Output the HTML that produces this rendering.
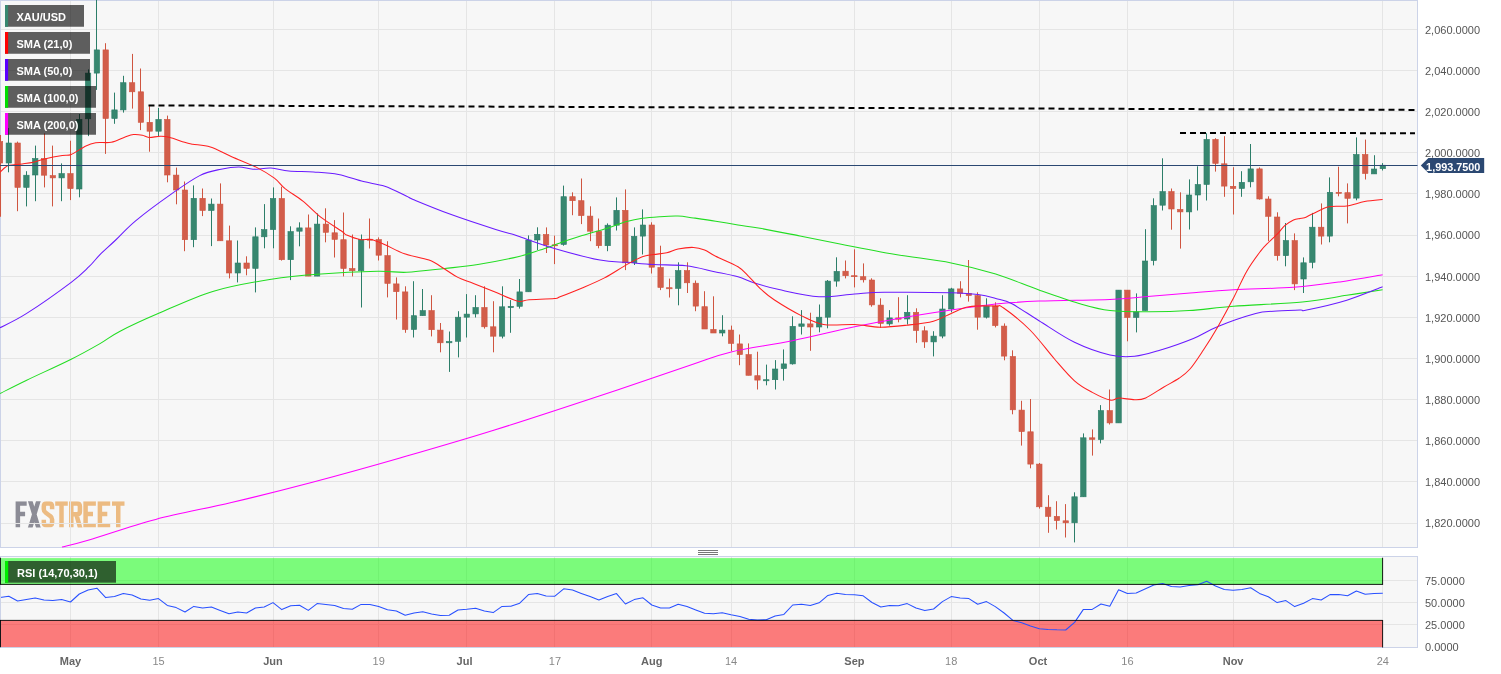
<!DOCTYPE html><html><head><meta charset="utf-8"><title>XAU/USD</title>
<style>html,body{margin:0;padding:0;background:#fff;}body{width:1501px;height:674px;overflow:hidden;font-family:"Liberation Sans",sans-serif;}svg{display:block;will-change:transform}text{font-family:"Liberation Sans",sans-serif;font-size:11px}</style></head><body>
<svg width="1501" height="674" viewBox="0 0 1501 674">
<rect x="0" y="0" width="1501" height="674" fill="#ffffff"/>
<rect x="0" y="0" width="1418" height="548" fill="#f7f7f7"/>
<rect x="0" y="556" width="1418" height="92" fill="#f7f7f7"/>
<clipPath id="lc"><rect x="10" y="501.3" width="120" height="26.1"/></clipPath>
<g id="logo" fill="none" stroke-width="4.5" stroke-linejoin="miter" clip-path="url(#lc)">
<g stroke="#8c8c96">
<path d="M17.85 527.4 V501.3 M15.6 503.5 H26.7 M17.85 514 H25.1"/>
<path d="M29.7 499.3 L38.9 529.4 M38.9 499.3 L29.7 529.4"/>
</g><g stroke="#ecbb82">
<path d="M52.1 509.2 V506.5 Q52.1 503.5 49.4 503.5 H46.5 Q43.8 503.5 43.8 506.5 V509.3 Q43.8 511.3 45.5 512.5 L50.4 516.2 Q52.1 517.4 52.1 519.6 V522.2 Q52.1 525.2 49.4 525.2 H46.5 Q43.8 525.2 43.8 522.2 V519.8"/>
<path d="M55.2 503.5 H67.8 M61.5 503.5 V527.4"/>
<path d="M71.3 527.4 V501.3 M71.3 503.5 H77 Q79.9 503.5 79.9 506.5 V511.2 Q79.9 514.2 77 514.2 H71.3 M76.2 514.2 L80.6 529.4"/>
<path d="M85.6 527.4 V501.3 M83.4 503.5 H95.9 M85.6 514 H93 M83.4 525.2 H95.9"/>
<path d="M99.9 527.4 V501.3 M97.7 503.5 H110.2 M99.9 514 H107.3 M97.7 525.2 H110.2"/>
<path d="M112 503.5 H124.5 M118.25 503.5 V527.4"/>
</g></g>
<g stroke="#e5e5e5" stroke-width="1" fill="none">
<path d="M0 523.5 H1417.5"/>
<path d="M0 481.5 H1417.5"/>
<path d="M0 440.5 H1417.5"/>
<path d="M0 399.5 H1417.5"/>
<path d="M0 358.5 H1417.5"/>
<path d="M0 317.5 H1417.5"/>
<path d="M0 276.5 H1417.5"/>
<path d="M0 235.5 H1417.5"/>
<path d="M0 193.5 H1417.5"/>
<path d="M0 152.5 H1417.5"/>
<path d="M0 111.5 H1417.5"/>
<path d="M0 70.5 H1417.5"/>
<path d="M0 29.5 H1417.5"/>
<path d="M70.5 0 V547.5 M70.5 556.5 V647.5"/>
<path d="M158.5 0 V547.5 M158.5 556.5 V647.5"/>
<path d="M273.5 0 V547.5 M273.5 556.5 V647.5"/>
<path d="M378.5 0 V547.5 M378.5 556.5 V647.5"/>
<path d="M466.5 0 V547.5 M466.5 556.5 V647.5"/>
<path d="M554.5 0 V547.5 M554.5 556.5 V647.5"/>
<path d="M651.5 0 V547.5 M651.5 556.5 V647.5"/>
<path d="M731.5 0 V547.5 M731.5 556.5 V647.5"/>
<path d="M854.5 0 V547.5 M854.5 556.5 V647.5"/>
<path d="M951.5 0 V547.5 M951.5 556.5 V647.5"/>
<path d="M1039.5 0 V547.5 M1039.5 556.5 V647.5"/>
<path d="M1127.5 0 V547.5 M1127.5 556.5 V647.5"/>
<path d="M1233.5 0 V547.5 M1233.5 556.5 V647.5"/>
<path d="M1382.5 0 V547.5 M1382.5 556.5 V647.5"/>
<path d="M0 624.5 H1417.5"/>
<path d="M0 602.5 H1417.5"/>
<path d="M0 580.5 H1417.5"/>
</g>
<rect x="0.5" y="0.5" width="1417.0" height="547.0" fill="none" stroke="#ccd3e8" stroke-width="1"/>
<g stroke-width="1">
<path d="M0.50 135.0 V216.8" stroke="#cf5540" stroke-width="1.05" fill="none"/>
<rect x="-2.70" y="141.6" width="5.4" height="21.4" fill="#d25d4a" stroke="#cf5540" stroke-width="0.6"/>
<path d="M8.50 128.0 V172.3" stroke="#2c7e69" stroke-width="1.05" fill="none"/>
<rect x="6.11" y="143.0" width="5.4" height="20.0" fill="#37876f" stroke="#2c7e69" stroke-width="0.6"/>
<path d="M17.50 141.6 V211.2" stroke="#cf5540" stroke-width="1.05" fill="none"/>
<rect x="14.92" y="143.0" width="5.4" height="44.4" fill="#d25d4a" stroke="#cf5540" stroke-width="0.6"/>
<path d="M26.50 171.2 V206.4" stroke="#2c7e69" stroke-width="1.05" fill="none"/>
<rect x="23.72" y="175.2" width="5.4" height="12.2" fill="#37876f" stroke="#2c7e69" stroke-width="0.6"/>
<path d="M35.50 145.6 V201.2" stroke="#2c7e69" stroke-width="1.05" fill="none"/>
<rect x="32.53" y="158.5" width="5.4" height="16.5" fill="#37876f" stroke="#2c7e69" stroke-width="0.6"/>
<path d="M44.50 133.4 V187.4" stroke="#cf5540" stroke-width="1.05" fill="none"/>
<rect x="41.34" y="158.5" width="5.4" height="16.7" fill="#d25d4a" stroke="#cf5540" stroke-width="0.6"/>
<path d="M52.50 145.6 V206.4" stroke="#cf5540" stroke-width="1.05" fill="none"/>
<rect x="50.15" y="175.6" width="5.4" height="2.3" fill="#d25d4a" stroke="#cf5540" stroke-width="0.6"/>
<path d="M61.50 163.4 V201.2" stroke="#2c7e69" stroke-width="1.05" fill="none"/>
<rect x="58.95" y="173.6" width="5.4" height="4.3" fill="#37876f" stroke="#2c7e69" stroke-width="0.6"/>
<path d="M70.50 140.7 V200.1" stroke="#cf5540" stroke-width="1.05" fill="none"/>
<rect x="67.76" y="173.6" width="5.4" height="15.0" fill="#d25d4a" stroke="#cf5540" stroke-width="0.6"/>
<path d="M79.50 114.0 V197.3" stroke="#2c7e69" stroke-width="1.05" fill="none"/>
<rect x="76.57" y="119.3" width="5.4" height="69.7" fill="#37876f" stroke="#2c7e69" stroke-width="0.6"/>
<path d="M88.50 69.4 V136.1" stroke="#2c7e69" stroke-width="1.05" fill="none"/>
<rect x="85.38" y="73.1" width="5.4" height="45.7" fill="#37876f" stroke="#2c7e69" stroke-width="0.6"/>
<path d="M96.50 0.0 V89.9" stroke="#2c7e69" stroke-width="1.05" fill="none"/>
<rect x="94.19" y="49.9" width="5.4" height="23.2" fill="#37876f" stroke="#2c7e69" stroke-width="0.6"/>
<path d="M105.50 43.2 V153.9" stroke="#cf5540" stroke-width="1.05" fill="none"/>
<rect x="102.99" y="49.9" width="5.4" height="68.6" fill="#d25d4a" stroke="#cf5540" stroke-width="0.6"/>
<path d="M114.50 92.6 V123.8" stroke="#2c7e69" stroke-width="1.05" fill="none"/>
<rect x="111.80" y="109.9" width="5.4" height="8.6" fill="#37876f" stroke="#2c7e69" stroke-width="0.6"/>
<path d="M123.50 75.8 V112.6" stroke="#2c7e69" stroke-width="1.05" fill="none"/>
<rect x="120.61" y="82.7" width="5.4" height="27.2" fill="#37876f" stroke="#2c7e69" stroke-width="0.6"/>
<path d="M132.50 53.9 V108.6" stroke="#cf5540" stroke-width="1.05" fill="none"/>
<rect x="129.42" y="82.7" width="5.4" height="9.1" fill="#d25d4a" stroke="#cf5540" stroke-width="0.6"/>
<path d="M140.50 68.5 V130.1" stroke="#cf5540" stroke-width="1.05" fill="none"/>
<rect x="138.22" y="91.8" width="5.4" height="30.5" fill="#d25d4a" stroke="#cf5540" stroke-width="0.6"/>
<path d="M149.50 106.1 V151.7" stroke="#cf5540" stroke-width="1.05" fill="none"/>
<rect x="147.03" y="122.3" width="5.4" height="8.9" fill="#d25d4a" stroke="#cf5540" stroke-width="0.6"/>
<path d="M158.50 107.9 V136.1" stroke="#2c7e69" stroke-width="1.05" fill="none"/>
<rect x="155.84" y="119.4" width="5.4" height="11.8" fill="#37876f" stroke="#2c7e69" stroke-width="0.6"/>
<path d="M167.50 115.6 V182.3" stroke="#cf5540" stroke-width="1.05" fill="none"/>
<rect x="164.65" y="119.4" width="5.4" height="55.6" fill="#d25d4a" stroke="#cf5540" stroke-width="0.6"/>
<path d="M176.50 167.6 V204.3" stroke="#cf5540" stroke-width="1.05" fill="none"/>
<rect x="173.46" y="175.1" width="5.4" height="14.9" fill="#d25d4a" stroke="#cf5540" stroke-width="0.6"/>
<path d="M184.50 181.5 V251.2" stroke="#cf5540" stroke-width="1.05" fill="none"/>
<rect x="182.26" y="190.0" width="5.4" height="49.7" fill="#d25d4a" stroke="#cf5540" stroke-width="0.6"/>
<path d="M193.50 185.4 V247.2" stroke="#2c7e69" stroke-width="1.05" fill="none"/>
<rect x="191.07" y="198.3" width="5.4" height="41.4" fill="#37876f" stroke="#2c7e69" stroke-width="0.6"/>
<path d="M202.50 188.5 V216.1" stroke="#cf5540" stroke-width="1.05" fill="none"/>
<rect x="199.88" y="198.3" width="5.4" height="12.2" fill="#d25d4a" stroke="#cf5540" stroke-width="0.6"/>
<path d="M211.50 198.5 V246.1" stroke="#2c7e69" stroke-width="1.05" fill="none"/>
<rect x="208.69" y="204.1" width="5.4" height="6.4" fill="#37876f" stroke="#2c7e69" stroke-width="0.6"/>
<path d="M220.50 183.4 V240.8" stroke="#cf5540" stroke-width="1.05" fill="none"/>
<rect x="217.50" y="204.1" width="5.4" height="36.7" fill="#d25d4a" stroke="#cf5540" stroke-width="0.6"/>
<path d="M229.50 225.6 V278.4" stroke="#cf5540" stroke-width="1.05" fill="none"/>
<rect x="226.30" y="240.8" width="5.4" height="32.2" fill="#d25d4a" stroke="#cf5540" stroke-width="0.6"/>
<path d="M237.50 240.5 V282.4" stroke="#2c7e69" stroke-width="1.05" fill="none"/>
<rect x="235.11" y="263.0" width="5.4" height="10.0" fill="#37876f" stroke="#2c7e69" stroke-width="0.6"/>
<path d="M246.50 256.3 V275.3" stroke="#cf5540" stroke-width="1.05" fill="none"/>
<rect x="243.92" y="263.0" width="5.4" height="5.4" fill="#d25d4a" stroke="#cf5540" stroke-width="0.6"/>
<path d="M255.50 227.4 V292.4" stroke="#2c7e69" stroke-width="1.05" fill="none"/>
<rect x="252.73" y="236.8" width="5.4" height="31.6" fill="#37876f" stroke="#2c7e69" stroke-width="0.6"/>
<path d="M264.50 204.1 V248.3" stroke="#2c7e69" stroke-width="1.05" fill="none"/>
<rect x="261.53" y="229.6" width="5.4" height="7.2" fill="#37876f" stroke="#2c7e69" stroke-width="0.6"/>
<path d="M273.50 187.4 V248.3" stroke="#2c7e69" stroke-width="1.05" fill="none"/>
<rect x="270.34" y="198.5" width="5.4" height="31.1" fill="#37876f" stroke="#2c7e69" stroke-width="0.6"/>
<path d="M281.50 186.7 V260.6" stroke="#cf5540" stroke-width="1.05" fill="none"/>
<rect x="279.15" y="198.5" width="5.4" height="61.2" fill="#d25d4a" stroke="#cf5540" stroke-width="0.6"/>
<path d="M290.50 226.3 V280.1" stroke="#2c7e69" stroke-width="1.05" fill="none"/>
<rect x="287.96" y="231.6" width="5.4" height="28.1" fill="#37876f" stroke="#2c7e69" stroke-width="0.6"/>
<path d="M299.50 222.3 V246.3" stroke="#2c7e69" stroke-width="1.05" fill="none"/>
<rect x="296.77" y="227.9" width="5.4" height="3.3" fill="#37876f" stroke="#2c7e69" stroke-width="0.6"/>
<path d="M308.50 214.5 V276.1" stroke="#cf5540" stroke-width="1.05" fill="none"/>
<rect x="305.57" y="227.9" width="5.4" height="48.2" fill="#d25d4a" stroke="#cf5540" stroke-width="0.6"/>
<path d="M317.50 213.4 V276.1" stroke="#2c7e69" stroke-width="1.05" fill="none"/>
<rect x="314.38" y="224.1" width="5.4" height="52.0" fill="#37876f" stroke="#2c7e69" stroke-width="0.6"/>
<path d="M325.50 208.3 V242.3" stroke="#cf5540" stroke-width="1.05" fill="none"/>
<rect x="323.19" y="224.1" width="5.4" height="8.2" fill="#d25d4a" stroke="#cf5540" stroke-width="0.6"/>
<path d="M334.50 220.1 V257.5" stroke="#cf5540" stroke-width="1.05" fill="none"/>
<rect x="332.00" y="232.8" width="5.4" height="6.6" fill="#d25d4a" stroke="#cf5540" stroke-width="0.6"/>
<path d="M343.50 212.5 V276.4" stroke="#cf5540" stroke-width="1.05" fill="none"/>
<rect x="340.80" y="239.7" width="5.4" height="28.8" fill="#d25d4a" stroke="#cf5540" stroke-width="0.6"/>
<path d="M352.50 234.5 V276.4" stroke="#cf5540" stroke-width="1.05" fill="none"/>
<rect x="349.61" y="268.5" width="5.4" height="2.2" fill="#d25d4a" stroke="#cf5540" stroke-width="0.6"/>
<path d="M361.50 234.5 V307.5" stroke="#2c7e69" stroke-width="1.05" fill="none"/>
<rect x="358.42" y="239.6" width="5.4" height="31.1" fill="#37876f" stroke="#2c7e69" stroke-width="0.6"/>
<path d="M369.50 218.5 V248.5" stroke="#cf5540" stroke-width="1.05" fill="none"/>
<rect x="367.23" y="239.2" width="5.4" height="1.0" fill="#d25d4a" stroke="#cf5540" stroke-width="0.6"/>
<path d="M378.50 237.4 V260.5" stroke="#cf5540" stroke-width="1.05" fill="none"/>
<rect x="376.04" y="239.6" width="5.4" height="15.6" fill="#d25d4a" stroke="#cf5540" stroke-width="0.6"/>
<path d="M387.50 241.2 V297.4" stroke="#cf5540" stroke-width="1.05" fill="none"/>
<rect x="384.84" y="255.6" width="5.4" height="27.8" fill="#d25d4a" stroke="#cf5540" stroke-width="0.6"/>
<path d="M396.50 277.4 V319.5" stroke="#cf5540" stroke-width="1.05" fill="none"/>
<rect x="393.65" y="283.9" width="5.4" height="7.8" fill="#d25d4a" stroke="#cf5540" stroke-width="0.6"/>
<path d="M405.50 286.3 V332.8" stroke="#cf5540" stroke-width="1.05" fill="none"/>
<rect x="402.46" y="291.9" width="5.4" height="37.6" fill="#d25d4a" stroke="#cf5540" stroke-width="0.6"/>
<path d="M413.50 281.2 V337.5" stroke="#2c7e69" stroke-width="1.05" fill="none"/>
<rect x="411.27" y="315.7" width="5.4" height="13.8" fill="#37876f" stroke="#2c7e69" stroke-width="0.6"/>
<path d="M422.50 289.0 V315.7" stroke="#2c7e69" stroke-width="1.05" fill="none"/>
<rect x="420.07" y="310.6" width="5.4" height="5.1" fill="#37876f" stroke="#2c7e69" stroke-width="0.6"/>
<path d="M431.50 295.2 V336.4" stroke="#cf5540" stroke-width="1.05" fill="none"/>
<rect x="428.88" y="310.6" width="5.4" height="19.1" fill="#d25d4a" stroke="#cf5540" stroke-width="0.6"/>
<path d="M440.50 323.0 V352.3" stroke="#cf5540" stroke-width="1.05" fill="none"/>
<rect x="437.69" y="330.1" width="5.4" height="12.7" fill="#d25d4a" stroke="#cf5540" stroke-width="0.6"/>
<path d="M449.50 331.5 V371.9" stroke="#2c7e69" stroke-width="1.05" fill="none"/>
<rect x="446.50" y="341.5" width="5.4" height="1.3" fill="#37876f" stroke="#2c7e69" stroke-width="0.6"/>
<path d="M458.50 311.2 V357.4" stroke="#2c7e69" stroke-width="1.05" fill="none"/>
<rect x="455.31" y="317.2" width="5.4" height="24.1" fill="#37876f" stroke="#2c7e69" stroke-width="0.6"/>
<path d="M466.50 294.1 V337.5" stroke="#2c7e69" stroke-width="1.05" fill="none"/>
<rect x="464.11" y="314.1" width="5.4" height="3.1" fill="#37876f" stroke="#2c7e69" stroke-width="0.6"/>
<path d="M475.50 295.2 V317.5" stroke="#2c7e69" stroke-width="1.05" fill="none"/>
<rect x="472.92" y="307.5" width="5.4" height="6.4" fill="#37876f" stroke="#2c7e69" stroke-width="0.6"/>
<path d="M484.50 286.3 V328.6" stroke="#cf5540" stroke-width="1.05" fill="none"/>
<rect x="481.73" y="307.5" width="5.4" height="19.3" fill="#d25d4a" stroke="#cf5540" stroke-width="0.6"/>
<path d="M493.50 301.2 V352.3" stroke="#cf5540" stroke-width="1.05" fill="none"/>
<rect x="490.54" y="326.8" width="5.4" height="9.4" fill="#d25d4a" stroke="#cf5540" stroke-width="0.6"/>
<path d="M502.50 286.3 V338.4" stroke="#2c7e69" stroke-width="1.05" fill="none"/>
<rect x="499.34" y="306.8" width="5.4" height="29.4" fill="#37876f" stroke="#2c7e69" stroke-width="0.6"/>
<path d="M510.50 300.1 V332.8" stroke="#2c7e69" stroke-width="1.05" fill="none"/>
<rect x="508.15" y="306.3" width="5.4" height="1.4" fill="#37876f" stroke="#2c7e69" stroke-width="0.6"/>
<path d="M519.50 279.0 V308.6" stroke="#2c7e69" stroke-width="1.05" fill="none"/>
<rect x="516.96" y="291.9" width="5.4" height="14.4" fill="#37876f" stroke="#2c7e69" stroke-width="0.6"/>
<path d="M528.50 235.4 V291.8" stroke="#2c7e69" stroke-width="1.05" fill="none"/>
<rect x="525.77" y="240.0" width="5.4" height="51.8" fill="#37876f" stroke="#2c7e69" stroke-width="0.6"/>
<path d="M537.50 227.3 V250.0" stroke="#2c7e69" stroke-width="1.05" fill="none"/>
<rect x="534.58" y="234.3" width="5.4" height="5.7" fill="#37876f" stroke="#2c7e69" stroke-width="0.6"/>
<path d="M546.50 227.4 V253.0" stroke="#cf5540" stroke-width="1.05" fill="none"/>
<rect x="543.38" y="234.5" width="5.4" height="10.5" fill="#d25d4a" stroke="#cf5540" stroke-width="0.6"/>
<path d="M554.50 235.6 V264.1" stroke="#cf5540" stroke-width="1.05" fill="none"/>
<rect x="552.19" y="244.8" width="5.4" height="1.0" fill="#d25d4a" stroke="#cf5540" stroke-width="0.6"/>
<path d="M563.50 185.6 V245.7" stroke="#2c7e69" stroke-width="1.05" fill="none"/>
<rect x="561.00" y="196.7" width="5.4" height="47.8" fill="#37876f" stroke="#2c7e69" stroke-width="0.6"/>
<path d="M572.50 192.3 V215.2" stroke="#cf5540" stroke-width="1.05" fill="none"/>
<rect x="569.81" y="196.7" width="5.4" height="4.0" fill="#d25d4a" stroke="#cf5540" stroke-width="0.6"/>
<path d="M581.50 178.5 V224.1" stroke="#cf5540" stroke-width="1.05" fill="none"/>
<rect x="578.61" y="200.7" width="5.4" height="14.9" fill="#d25d4a" stroke="#cf5540" stroke-width="0.6"/>
<path d="M590.50 206.3 V241.2" stroke="#cf5540" stroke-width="1.05" fill="none"/>
<rect x="587.42" y="216.1" width="5.4" height="15.1" fill="#d25d4a" stroke="#cf5540" stroke-width="0.6"/>
<path d="M598.50 218.5 V248.3" stroke="#cf5540" stroke-width="1.05" fill="none"/>
<rect x="596.23" y="231.2" width="5.4" height="14.5" fill="#d25d4a" stroke="#cf5540" stroke-width="0.6"/>
<path d="M607.50 223.4 V251.2" stroke="#2c7e69" stroke-width="1.05" fill="none"/>
<rect x="605.04" y="225.2" width="5.4" height="20.5" fill="#37876f" stroke="#2c7e69" stroke-width="0.6"/>
<path d="M616.50 197.4 V230.5" stroke="#2c7e69" stroke-width="1.05" fill="none"/>
<rect x="613.85" y="210.3" width="5.4" height="14.9" fill="#37876f" stroke="#2c7e69" stroke-width="0.6"/>
<path d="M625.50 189.4 V270.1" stroke="#cf5540" stroke-width="1.05" fill="none"/>
<rect x="622.65" y="210.3" width="5.4" height="52.5" fill="#d25d4a" stroke="#cf5540" stroke-width="0.6"/>
<path d="M634.50 227.4 V265.0" stroke="#2c7e69" stroke-width="1.05" fill="none"/>
<rect x="631.46" y="236.3" width="5.4" height="26.5" fill="#37876f" stroke="#2c7e69" stroke-width="0.6"/>
<path d="M642.50 209.4 V254.5" stroke="#2c7e69" stroke-width="1.05" fill="none"/>
<rect x="640.27" y="225.0" width="5.4" height="11.1" fill="#37876f" stroke="#2c7e69" stroke-width="0.6"/>
<path d="M651.50 222.3 V273.5" stroke="#cf5540" stroke-width="1.05" fill="none"/>
<rect x="649.08" y="225.0" width="5.4" height="42.2" fill="#d25d4a" stroke="#cf5540" stroke-width="0.6"/>
<path d="M660.50 245.7 V290.1" stroke="#cf5540" stroke-width="1.05" fill="none"/>
<rect x="657.88" y="267.5" width="5.4" height="20.0" fill="#d25d4a" stroke="#cf5540" stroke-width="0.6"/>
<path d="M669.50 278.6 V297.5" stroke="#cf5540" stroke-width="1.05" fill="none"/>
<rect x="666.69" y="287.7" width="5.4" height="1.1" fill="#d25d4a" stroke="#cf5540" stroke-width="0.6"/>
<path d="M678.50 262.3 V305.3" stroke="#2c7e69" stroke-width="1.05" fill="none"/>
<rect x="675.50" y="270.6" width="5.4" height="17.8" fill="#37876f" stroke="#2c7e69" stroke-width="0.6"/>
<path d="M687.50 262.3 V293.0" stroke="#cf5540" stroke-width="1.05" fill="none"/>
<rect x="684.31" y="270.6" width="5.4" height="12.2" fill="#d25d4a" stroke="#cf5540" stroke-width="0.6"/>
<path d="M695.50 280.5 V311.2" stroke="#cf5540" stroke-width="1.05" fill="none"/>
<rect x="693.12" y="283.2" width="5.4" height="22.9" fill="#d25d4a" stroke="#cf5540" stroke-width="0.6"/>
<path d="M704.50 291.2 V329.0" stroke="#cf5540" stroke-width="1.05" fill="none"/>
<rect x="701.92" y="306.7" width="5.4" height="22.3" fill="#d25d4a" stroke="#cf5540" stroke-width="0.6"/>
<path d="M713.50 296.3 V333.0" stroke="#cf5540" stroke-width="1.05" fill="none"/>
<rect x="710.73" y="329.4" width="5.4" height="3.6" fill="#d25d4a" stroke="#cf5540" stroke-width="0.6"/>
<path d="M722.50 315.2 V336.3" stroke="#2c7e69" stroke-width="1.05" fill="none"/>
<rect x="719.54" y="330.1" width="5.4" height="2.9" fill="#37876f" stroke="#2c7e69" stroke-width="0.6"/>
<path d="M731.50 325.6 V351.2" stroke="#cf5540" stroke-width="1.05" fill="none"/>
<rect x="728.35" y="330.1" width="5.4" height="13.3" fill="#d25d4a" stroke="#cf5540" stroke-width="0.6"/>
<path d="M739.50 334.5 V365.2" stroke="#cf5540" stroke-width="1.05" fill="none"/>
<rect x="737.16" y="343.9" width="5.4" height="10.7" fill="#d25d4a" stroke="#cf5540" stroke-width="0.6"/>
<path d="M748.50 343.4 V375.3" stroke="#cf5540" stroke-width="1.05" fill="none"/>
<rect x="745.96" y="354.6" width="5.4" height="20.7" fill="#d25d4a" stroke="#cf5540" stroke-width="0.6"/>
<path d="M757.50 351.7 V389.5" stroke="#cf5540" stroke-width="1.05" fill="none"/>
<rect x="754.77" y="375.7" width="5.4" height="4.4" fill="#d25d4a" stroke="#cf5540" stroke-width="0.6"/>
<path d="M766.50 364.6 V385.3" stroke="#2c7e69" stroke-width="1.05" fill="none"/>
<rect x="763.58" y="379.7" width="5.4" height="1.1" fill="#37876f" stroke="#2c7e69" stroke-width="0.6"/>
<path d="M775.50 360.1 V389.5" stroke="#2c7e69" stroke-width="1.05" fill="none"/>
<rect x="772.39" y="369.0" width="5.4" height="10.7" fill="#37876f" stroke="#2c7e69" stroke-width="0.6"/>
<path d="M783.50 349.4 V380.6" stroke="#2c7e69" stroke-width="1.05" fill="none"/>
<rect x="781.19" y="363.9" width="5.4" height="4.7" fill="#37876f" stroke="#2c7e69" stroke-width="0.6"/>
<path d="M792.50 316.3 V364.6" stroke="#2c7e69" stroke-width="1.05" fill="none"/>
<rect x="790.00" y="326.3" width="5.4" height="37.6" fill="#37876f" stroke="#2c7e69" stroke-width="0.6"/>
<path d="M801.50 310.1 V334.5" stroke="#2c7e69" stroke-width="1.05" fill="none"/>
<rect x="798.81" y="323.9" width="5.4" height="2.4" fill="#37876f" stroke="#2c7e69" stroke-width="0.6"/>
<path d="M810.50 312.7 V350.8" stroke="#cf5540" stroke-width="1.05" fill="none"/>
<rect x="807.62" y="323.9" width="5.4" height="3.1" fill="#d25d4a" stroke="#cf5540" stroke-width="0.6"/>
<path d="M819.50 304.5 V332.3" stroke="#2c7e69" stroke-width="1.05" fill="none"/>
<rect x="816.43" y="317.2" width="5.4" height="9.8" fill="#37876f" stroke="#2c7e69" stroke-width="0.6"/>
<path d="M827.50 280.0 V328.3" stroke="#2c7e69" stroke-width="1.05" fill="none"/>
<rect x="825.23" y="281.1" width="5.4" height="36.1" fill="#37876f" stroke="#2c7e69" stroke-width="0.6"/>
<path d="M836.50 257.3 V286.7" stroke="#2c7e69" stroke-width="1.05" fill="none"/>
<rect x="834.04" y="271.4" width="5.4" height="9.7" fill="#37876f" stroke="#2c7e69" stroke-width="0.6"/>
<path d="M845.50 260.5 V278.4" stroke="#cf5540" stroke-width="1.05" fill="none"/>
<rect x="842.85" y="271.2" width="5.4" height="4.5" fill="#d25d4a" stroke="#cf5540" stroke-width="0.6"/>
<path d="M854.50 249.3 V287.4" stroke="#cf5540" stroke-width="1.05" fill="none"/>
<rect x="851.66" y="275.7" width="5.4" height="1.0" fill="#d25d4a" stroke="#cf5540" stroke-width="0.6"/>
<path d="M863.50 263.4 V282.5" stroke="#cf5540" stroke-width="1.05" fill="none"/>
<rect x="860.46" y="276.7" width="5.4" height="3.1" fill="#d25d4a" stroke="#cf5540" stroke-width="0.6"/>
<path d="M871.50 278.3 V306.7" stroke="#cf5540" stroke-width="1.05" fill="none"/>
<rect x="869.27" y="280.0" width="5.4" height="24.9" fill="#d25d4a" stroke="#cf5540" stroke-width="0.6"/>
<path d="M880.50 298.3 V327.9" stroke="#cf5540" stroke-width="1.05" fill="none"/>
<rect x="878.08" y="305.1" width="5.4" height="18.3" fill="#d25d4a" stroke="#cf5540" stroke-width="0.6"/>
<path d="M889.50 310.1 V325.7" stroke="#2c7e69" stroke-width="1.05" fill="none"/>
<rect x="886.89" y="317.9" width="5.4" height="6.0" fill="#37876f" stroke="#2c7e69" stroke-width="0.6"/>
<path d="M898.50 297.2 V322.3" stroke="#cf5540" stroke-width="1.05" fill="none"/>
<rect x="895.70" y="317.9" width="5.4" height="1.3" fill="#d25d4a" stroke="#cf5540" stroke-width="0.6"/>
<path d="M907.50 295.2 V324.5" stroke="#2c7e69" stroke-width="1.05" fill="none"/>
<rect x="904.50" y="312.3" width="5.4" height="6.7" fill="#37876f" stroke="#2c7e69" stroke-width="0.6"/>
<path d="M916.50 308.3 V342.8" stroke="#cf5540" stroke-width="1.05" fill="none"/>
<rect x="913.31" y="312.3" width="5.4" height="18.2" fill="#d25d4a" stroke="#cf5540" stroke-width="0.6"/>
<path d="M924.50 326.3 V347.9" stroke="#cf5540" stroke-width="1.05" fill="none"/>
<rect x="922.12" y="330.8" width="5.4" height="11.1" fill="#d25d4a" stroke="#cf5540" stroke-width="0.6"/>
<path d="M933.50 331.2 V356.4" stroke="#2c7e69" stroke-width="1.05" fill="none"/>
<rect x="930.93" y="336.1" width="5.4" height="5.8" fill="#37876f" stroke="#2c7e69" stroke-width="0.6"/>
<path d="M942.50 295.2 V338.3" stroke="#2c7e69" stroke-width="1.05" fill="none"/>
<rect x="939.73" y="309.0" width="5.4" height="27.1" fill="#37876f" stroke="#2c7e69" stroke-width="0.6"/>
<path d="M951.50 287.8 V312.3" stroke="#2c7e69" stroke-width="1.05" fill="none"/>
<rect x="948.54" y="288.9" width="5.4" height="20.1" fill="#37876f" stroke="#2c7e69" stroke-width="0.6"/>
<path d="M960.50 281.2 V297.4" stroke="#cf5540" stroke-width="1.05" fill="none"/>
<rect x="957.35" y="288.9" width="5.4" height="4.5" fill="#d25d4a" stroke="#cf5540" stroke-width="0.6"/>
<path d="M968.50 260.0 V301.6" stroke="#cf5540" stroke-width="1.05" fill="none"/>
<rect x="966.16" y="293.4" width="5.4" height="2.2" fill="#d25d4a" stroke="#cf5540" stroke-width="0.6"/>
<path d="M977.50 292.3 V329.7" stroke="#cf5540" stroke-width="1.05" fill="none"/>
<rect x="974.97" y="295.6" width="5.4" height="21.6" fill="#d25d4a" stroke="#cf5540" stroke-width="0.6"/>
<path d="M986.50 298.3 V318.5" stroke="#2c7e69" stroke-width="1.05" fill="none"/>
<rect x="983.77" y="306.1" width="5.4" height="11.1" fill="#37876f" stroke="#2c7e69" stroke-width="0.6"/>
<path d="M995.50 302.3 V327.4" stroke="#cf5540" stroke-width="1.05" fill="none"/>
<rect x="992.58" y="306.0" width="5.4" height="19.6" fill="#d25d4a" stroke="#cf5540" stroke-width="0.6"/>
<path d="M1004.50 323.4 V360.3" stroke="#cf5540" stroke-width="1.05" fill="none"/>
<rect x="1001.39" y="326.1" width="5.4" height="30.0" fill="#d25d4a" stroke="#cf5540" stroke-width="0.6"/>
<path d="M1012.50 350.3 V414.3" stroke="#cf5540" stroke-width="1.05" fill="none"/>
<rect x="1010.20" y="356.5" width="5.4" height="53.3" fill="#d25d4a" stroke="#cf5540" stroke-width="0.6"/>
<path d="M1021.50 400.8 V445.6" stroke="#cf5540" stroke-width="1.05" fill="none"/>
<rect x="1019.00" y="410.1" width="5.4" height="21.5" fill="#d25d4a" stroke="#cf5540" stroke-width="0.6"/>
<path d="M1030.50 399.0 V468.3" stroke="#cf5540" stroke-width="1.05" fill="none"/>
<rect x="1027.81" y="431.8" width="5.4" height="32.3" fill="#d25d4a" stroke="#cf5540" stroke-width="0.6"/>
<path d="M1039.50 463.0 V508.6" stroke="#cf5540" stroke-width="1.05" fill="none"/>
<rect x="1036.62" y="464.1" width="5.4" height="42.7" fill="#d25d4a" stroke="#cf5540" stroke-width="0.6"/>
<path d="M1048.50 495.2 V532.8" stroke="#cf5540" stroke-width="1.05" fill="none"/>
<rect x="1045.43" y="507.2" width="5.4" height="9.2" fill="#d25d4a" stroke="#cf5540" stroke-width="0.6"/>
<path d="M1056.50 501.2 V529.5" stroke="#cf5540" stroke-width="1.05" fill="none"/>
<rect x="1054.24" y="516.4" width="5.4" height="4.2" fill="#d25d4a" stroke="#cf5540" stroke-width="0.6"/>
<path d="M1065.50 504.1 V537.5" stroke="#cf5540" stroke-width="1.05" fill="none"/>
<rect x="1063.04" y="520.8" width="5.4" height="2.0" fill="#d25d4a" stroke="#cf5540" stroke-width="0.6"/>
<path d="M1074.50 492.3 V542.4" stroke="#2c7e69" stroke-width="1.05" fill="none"/>
<rect x="1071.85" y="496.8" width="5.4" height="26.0" fill="#37876f" stroke="#2c7e69" stroke-width="0.6"/>
<path d="M1083.50 433.4 V496.8" stroke="#2c7e69" stroke-width="1.05" fill="none"/>
<rect x="1080.66" y="437.8" width="5.4" height="59.0" fill="#37876f" stroke="#2c7e69" stroke-width="0.6"/>
<path d="M1092.50 429.4 V455.6" stroke="#cf5540" stroke-width="1.05" fill="none"/>
<rect x="1089.47" y="437.8" width="5.4" height="1.6" fill="#d25d4a" stroke="#cf5540" stroke-width="0.6"/>
<path d="M1100.50 405.1 V443.4" stroke="#2c7e69" stroke-width="1.05" fill="none"/>
<rect x="1098.28" y="410.6" width="5.4" height="29.0" fill="#37876f" stroke="#2c7e69" stroke-width="0.6"/>
<path d="M1109.50 389.5 V424.5" stroke="#cf5540" stroke-width="1.05" fill="none"/>
<rect x="1107.08" y="410.6" width="5.4" height="12.3" fill="#d25d4a" stroke="#cf5540" stroke-width="0.6"/>
<path d="M1118.50 290.1 V422.9" stroke="#2c7e69" stroke-width="1.05" fill="none"/>
<rect x="1115.89" y="290.1" width="5.4" height="132.8" fill="#37876f" stroke="#2c7e69" stroke-width="0.6"/>
<path d="M1127.50 290.1 V341.3" stroke="#cf5540" stroke-width="1.05" fill="none"/>
<rect x="1124.70" y="290.1" width="5.4" height="27.4" fill="#d25d4a" stroke="#cf5540" stroke-width="0.6"/>
<path d="M1136.50 293.4 V332.4" stroke="#2c7e69" stroke-width="1.05" fill="none"/>
<rect x="1133.51" y="311.9" width="5.4" height="5.6" fill="#37876f" stroke="#2c7e69" stroke-width="0.6"/>
<path d="M1145.50 229.2 V310.6" stroke="#2c7e69" stroke-width="1.05" fill="none"/>
<rect x="1142.31" y="261.0" width="5.4" height="49.6" fill="#37876f" stroke="#2c7e69" stroke-width="0.6"/>
<path d="M1153.50 198.3 V265.4" stroke="#2c7e69" stroke-width="1.05" fill="none"/>
<rect x="1151.12" y="205.6" width="5.4" height="55.0" fill="#37876f" stroke="#2c7e69" stroke-width="0.6"/>
<path d="M1162.50 158.3 V210.5" stroke="#2c7e69" stroke-width="1.05" fill="none"/>
<rect x="1159.93" y="191.6" width="5.4" height="13.6" fill="#37876f" stroke="#2c7e69" stroke-width="0.6"/>
<path d="M1171.50 188.5 V229.7" stroke="#cf5540" stroke-width="1.05" fill="none"/>
<rect x="1168.74" y="191.6" width="5.4" height="17.4" fill="#d25d4a" stroke="#cf5540" stroke-width="0.6"/>
<path d="M1180.50 192.3 V248.6" stroke="#cf5540" stroke-width="1.05" fill="none"/>
<rect x="1177.55" y="209.4" width="5.4" height="2.5" fill="#d25d4a" stroke="#cf5540" stroke-width="0.6"/>
<path d="M1189.50 179.4 V229.5" stroke="#2c7e69" stroke-width="1.05" fill="none"/>
<rect x="1186.35" y="195.0" width="5.4" height="16.9" fill="#37876f" stroke="#2c7e69" stroke-width="0.6"/>
<path d="M1197.50 166.3 V210.5" stroke="#2c7e69" stroke-width="1.05" fill="none"/>
<rect x="1195.16" y="184.5" width="5.4" height="10.5" fill="#37876f" stroke="#2c7e69" stroke-width="0.6"/>
<path d="M1206.50 133.3 V200.5" stroke="#2c7e69" stroke-width="1.05" fill="none"/>
<rect x="1203.97" y="139.4" width="5.4" height="45.1" fill="#37876f" stroke="#2c7e69" stroke-width="0.6"/>
<path d="M1215.50 138.2 V171.6" stroke="#cf5540" stroke-width="1.05" fill="none"/>
<rect x="1212.78" y="139.4" width="5.4" height="24.0" fill="#d25d4a" stroke="#cf5540" stroke-width="0.6"/>
<path d="M1224.50 136.2 V196.8" stroke="#cf5540" stroke-width="1.05" fill="none"/>
<rect x="1221.58" y="163.8" width="5.4" height="22.3" fill="#d25d4a" stroke="#cf5540" stroke-width="0.6"/>
<path d="M1233.50 167.2 V214.5" stroke="#cf5540" stroke-width="1.05" fill="none"/>
<rect x="1230.39" y="186.3" width="5.4" height="2.2" fill="#d25d4a" stroke="#cf5540" stroke-width="0.6"/>
<path d="M1241.50 171.2 V196.8" stroke="#2c7e69" stroke-width="1.05" fill="none"/>
<rect x="1239.20" y="182.3" width="5.4" height="6.2" fill="#37876f" stroke="#2c7e69" stroke-width="0.6"/>
<path d="M1250.50 144.0 V187.3" stroke="#2c7e69" stroke-width="1.05" fill="none"/>
<rect x="1248.01" y="168.9" width="5.4" height="12.9" fill="#37876f" stroke="#2c7e69" stroke-width="0.6"/>
<path d="M1259.50 167.4 V199.6" stroke="#cf5540" stroke-width="1.05" fill="none"/>
<rect x="1256.82" y="168.9" width="5.4" height="30.1" fill="#d25d4a" stroke="#cf5540" stroke-width="0.6"/>
<path d="M1268.50 196.3 V241.2" stroke="#cf5540" stroke-width="1.05" fill="none"/>
<rect x="1265.62" y="199.0" width="5.4" height="17.3" fill="#d25d4a" stroke="#cf5540" stroke-width="0.6"/>
<path d="M1277.50 212.3 V260.6" stroke="#cf5540" stroke-width="1.05" fill="none"/>
<rect x="1274.43" y="217.0" width="5.4" height="38.7" fill="#d25d4a" stroke="#cf5540" stroke-width="0.6"/>
<path d="M1285.50 223.0 V266.3" stroke="#2c7e69" stroke-width="1.05" fill="none"/>
<rect x="1283.24" y="240.5" width="5.4" height="15.2" fill="#37876f" stroke="#2c7e69" stroke-width="0.6"/>
<path d="M1294.50 233.4 V290.1" stroke="#cf5540" stroke-width="1.05" fill="none"/>
<rect x="1292.05" y="240.6" width="5.4" height="43.3" fill="#d25d4a" stroke="#cf5540" stroke-width="0.6"/>
<path d="M1303.50 257.4 V293.0" stroke="#2c7e69" stroke-width="1.05" fill="none"/>
<rect x="1300.85" y="262.8" width="5.4" height="16.2" fill="#37876f" stroke="#2c7e69" stroke-width="0.6"/>
<path d="M1312.50 212.9 V268.3" stroke="#2c7e69" stroke-width="1.05" fill="none"/>
<rect x="1309.66" y="227.2" width="5.4" height="35.1" fill="#37876f" stroke="#2c7e69" stroke-width="0.6"/>
<path d="M1321.50 203.4 V244.5" stroke="#cf5540" stroke-width="1.05" fill="none"/>
<rect x="1318.47" y="227.2" width="5.4" height="8.9" fill="#d25d4a" stroke="#cf5540" stroke-width="0.6"/>
<path d="M1329.50 177.4 V242.3" stroke="#2c7e69" stroke-width="1.05" fill="none"/>
<rect x="1327.28" y="192.3" width="5.4" height="43.8" fill="#37876f" stroke="#2c7e69" stroke-width="0.6"/>
<path d="M1338.50 166.7 V196.3" stroke="#cf5540" stroke-width="1.05" fill="none"/>
<rect x="1336.09" y="192.3" width="5.4" height="1.1" fill="#d25d4a" stroke="#cf5540" stroke-width="0.6"/>
<path d="M1347.50 183.4 V223.4" stroke="#cf5540" stroke-width="1.05" fill="none"/>
<rect x="1344.89" y="192.7" width="5.4" height="5.6" fill="#d25d4a" stroke="#cf5540" stroke-width="0.6"/>
<path d="M1356.50 137.4 V200.3" stroke="#2c7e69" stroke-width="1.05" fill="none"/>
<rect x="1353.70" y="154.5" width="5.4" height="43.6" fill="#37876f" stroke="#2c7e69" stroke-width="0.6"/>
<path d="M1365.50 139.6 V179.5" stroke="#cf5540" stroke-width="1.05" fill="none"/>
<rect x="1362.51" y="154.5" width="5.4" height="19.0" fill="#d25d4a" stroke="#cf5540" stroke-width="0.6"/>
<path d="M1374.50 155.2 V173.9" stroke="#2c7e69" stroke-width="1.05" fill="none"/>
<rect x="1371.32" y="169.0" width="5.4" height="4.9" fill="#37876f" stroke="#2c7e69" stroke-width="0.6"/>
<path d="M1382.50 163.1 V170.5" stroke="#2c7e69" stroke-width="1.05" fill="none"/>
<rect x="1380.12" y="165.2" width="5.4" height="3.5" fill="#37876f" stroke="#2c7e69" stroke-width="0.6"/>
</g>
<path d="M62.0 547.0 C66.5 545.8 73.4 544.5 89.0 539.9 C104.6 535.3 132.0 525.6 155.7 519.4 C179.4 513.2 205.4 508.6 231.4 502.5 C257.4 496.4 283.4 489.9 311.5 482.5 C339.6 475.1 369.5 466.8 400.0 458.0 C430.5 449.2 461.2 440.4 494.5 430.0 C527.8 419.6 567.4 406.5 600.0 395.7 C632.6 384.9 668.1 372.5 690.0 365.2 C711.9 357.9 714.2 356.0 731.2 351.9 C748.2 347.8 771.7 345.0 792.3 340.8 C812.9 336.6 837.4 330.4 854.6 326.8 C871.8 323.2 879.5 321.8 895.6 319.0 C911.7 316.2 934.5 312.6 951.2 310.1 C967.9 307.6 981.1 305.6 995.7 304.1 C1010.3 302.6 1020.0 301.9 1039.0 301.1 C1058.0 300.3 1092.4 300.1 1110.0 299.4 C1127.6 298.7 1131.2 297.9 1144.5 296.8 C1157.8 295.7 1175.2 294.1 1190.0 292.9 C1204.8 291.7 1216.3 290.6 1233.5 289.7 C1250.7 288.8 1275.7 288.6 1293.4 287.3 C1311.2 286.0 1325.1 284.0 1340.0 281.9 C1354.9 279.8 1375.5 276.0 1382.6 274.8" fill="none" stroke="#ff00ff" stroke-width="1.05" stroke-linejoin="round"/>
<path d="M0.0 393.5 C4.5 391.3 14.8 385.9 26.7 380.2 C38.6 374.5 59.0 365.3 71.2 359.2 C83.4 353.1 91.8 348.3 100.0 343.6 C108.2 338.9 110.3 336.2 120.1 331.2 C129.9 326.1 143.1 320.0 158.7 313.3 C174.3 306.6 194.8 296.9 213.6 291.2 C232.4 285.5 254.1 282.0 271.4 279.2 C288.7 276.4 299.5 275.5 317.2 274.2 C334.9 272.9 362.8 271.6 377.7 271.3 C392.6 271.0 395.5 272.8 406.7 272.3 C417.9 271.8 432.7 269.8 444.6 268.5 C456.5 267.2 465.7 266.5 477.9 264.5 C490.1 262.5 507.6 259.1 518.0 256.7 C528.4 254.3 533.0 252.4 540.0 250.1 C547.0 247.8 553.0 245.4 560.0 243.0 C567.0 240.6 574.8 237.9 582.2 235.6 C589.6 233.3 597.1 231.3 604.5 229.0 C611.9 226.7 620.4 223.4 626.7 221.6 C633.0 219.8 636.8 219.1 642.3 218.3 C647.8 217.5 654.0 217.1 660.0 216.7 C666.0 216.3 672.4 215.9 678.0 216.1 C683.6 216.3 687.2 217.1 693.5 217.9 C699.8 218.8 708.3 220.0 715.7 221.2 C723.1 222.4 730.6 223.8 738.0 225.0 C745.4 226.2 749.7 226.5 760.0 228.3 C770.3 230.1 786.7 233.4 800.0 236.0 C813.3 238.6 824.1 240.9 840.0 244.0 C855.9 247.1 877.1 251.3 895.6 254.5 C914.1 257.6 934.5 259.6 951.2 262.9 C967.9 266.1 981.1 269.5 995.7 274.0 C1010.3 278.5 1025.1 285.1 1039.0 290.0 C1052.9 294.9 1067.2 300.0 1079.0 303.4 C1090.8 306.8 1098.2 309.1 1110.0 310.5 C1121.8 311.9 1136.8 311.8 1150.0 311.8 C1163.2 311.8 1175.1 311.5 1189.0 310.6 C1202.9 309.7 1214.6 307.8 1233.5 306.3 C1252.4 304.9 1283.4 303.7 1302.3 301.9 C1321.2 300.1 1333.4 297.3 1346.8 295.3 C1360.2 293.3 1376.6 290.6 1382.6 289.7" fill="none" stroke="#22dd22" stroke-width="1.05" stroke-linejoin="round"/>
<path d="M0.0 327.7 C4.5 325.3 14.8 321.0 26.7 313.4 C38.6 305.8 60.8 290.1 71.2 282.3 C81.6 274.5 84.2 271.3 89.0 266.7 C93.8 262.1 95.5 259.1 100.0 254.6 C104.5 250.2 109.8 245.6 115.7 240.0 C121.6 234.4 126.3 228.5 135.6 220.8 C144.8 213.2 160.5 201.6 171.2 194.1 C181.9 186.6 191.4 179.8 199.7 175.6 C208.0 171.4 214.5 170.6 221.0 169.2 C227.5 167.8 233.5 167.0 238.8 167.0 C244.1 167.0 247.7 169.0 253.0 169.2 C258.4 169.4 264.9 167.8 270.9 168.1 C276.8 168.4 281.6 170.2 288.7 170.9 C295.8 171.6 305.3 171.4 313.6 172.0 C321.9 172.6 330.2 172.9 338.5 174.5 C346.8 176.1 355.7 179.7 363.4 181.6 C371.1 183.5 377.7 183.8 384.8 186.2 C391.9 188.6 401.2 193.6 406.2 195.9 C411.1 198.2 407.0 196.9 414.5 200.0 C422.0 203.1 437.7 209.6 451.2 214.5 C464.7 219.4 485.3 226.1 495.7 229.4 C506.1 232.7 509.4 233.3 513.5 234.5 C517.5 235.7 513.2 234.5 520.0 236.8 C526.8 239.1 541.2 244.6 554.5 248.5 C567.8 252.4 588.0 257.8 600.0 260.1 C612.0 262.4 617.8 261.6 626.7 262.3 C635.6 263.0 643.5 263.9 653.4 264.5 C663.3 265.1 675.6 264.6 686.0 265.8 C696.4 267.0 707.0 270.1 715.7 271.9 C724.4 273.7 731.5 275.0 738.0 276.8 C744.5 278.6 747.7 280.8 754.5 282.9 C761.3 285.0 768.2 287.3 779.0 289.6 C789.8 291.9 806.4 296.0 819.0 296.7 C831.6 297.4 843.7 294.7 854.6 294.0 C865.5 293.3 868.4 292.5 884.5 292.3 C900.6 292.1 935.6 292.3 951.2 292.7 C966.8 293.1 970.6 293.5 978.0 294.5 C985.4 295.5 990.0 296.9 995.7 298.5 C1001.4 300.1 1004.8 300.1 1012.0 303.8 C1019.2 307.5 1028.6 314.3 1039.0 320.7 C1049.4 327.1 1062.7 336.6 1074.5 342.3 C1086.3 348.0 1100.0 352.7 1110.0 355.0 C1120.0 357.3 1126.4 357.1 1134.6 356.3 C1142.8 355.6 1149.2 353.5 1159.0 350.5 C1168.8 347.5 1183.6 342.4 1193.4 338.4 C1203.2 334.4 1207.6 330.5 1218.0 326.4 C1228.4 322.2 1246.5 316.0 1255.7 313.5 C1265.0 311.0 1266.1 311.8 1273.5 311.2 C1280.9 310.6 1294.5 310.3 1300.0 310.1 C1305.5 309.9 1298.9 311.6 1306.7 310.0 C1314.5 308.4 1334.2 304.1 1346.8 300.2 C1359.4 296.3 1376.6 289.0 1382.6 286.8" fill="none" stroke="#6a1bff" stroke-width="1.05" stroke-linejoin="round"/>
<path d="M0.0 172.3 C0.8 171.5 3.4 168.7 5.0 167.5 C6.6 166.3 6.6 165.8 9.5 165.2 C12.4 164.6 18.2 164.4 22.2 163.9 C26.2 163.4 29.7 163.1 33.4 162.3 C37.1 161.5 39.7 160.1 44.5 159.0 C49.3 157.9 57.8 156.3 62.3 155.6 C66.8 154.8 67.5 156.0 71.2 154.5 C74.9 153.0 80.4 148.7 84.5 146.7 C88.6 144.7 91.2 143.4 95.7 142.7 C100.2 142.0 106.4 143.2 111.2 142.3 C116.0 141.4 120.9 138.5 124.6 137.2 C128.3 135.9 130.5 134.8 133.5 134.5 C136.5 134.2 139.8 134.7 142.4 135.2 C145.0 135.7 146.0 137.2 149.0 137.4 C152.0 137.6 156.8 136.3 160.2 136.3 C163.5 136.3 165.0 136.2 169.1 137.2 C173.2 138.2 180.7 141.1 184.6 142.3 C188.5 143.5 188.3 143.4 192.6 144.2 C196.9 145.0 203.9 145.0 210.4 147.1 C216.9 149.2 224.0 153.3 231.7 156.7 C239.4 160.1 249.5 163.8 256.6 167.4 C263.7 171.0 269.6 174.6 274.4 178.1 C279.1 181.6 280.4 184.8 285.1 188.7 C289.9 192.5 297.0 196.4 302.9 201.2 C308.8 205.9 314.2 212.1 320.7 217.2 C327.2 222.2 337.8 228.5 342.1 231.5 C346.4 234.5 343.7 233.8 346.7 235.1 C349.7 236.4 355.9 238.8 360.0 239.6 C364.1 240.3 367.0 238.8 371.1 239.6 C375.2 240.4 378.9 242.1 384.5 244.5 C390.1 246.9 397.1 251.2 404.5 253.8 C411.9 256.4 422.3 257.6 429.0 260.1 C435.7 262.6 439.8 266.1 444.6 269.0 C449.4 271.9 453.1 275.0 457.9 277.4 C462.7 279.8 467.2 280.9 473.5 283.4 C479.8 285.9 488.3 289.3 495.7 292.3 C503.1 295.3 512.4 300.0 518.0 301.2 C523.6 302.4 523.0 300.1 529.1 299.7 C535.2 299.3 549.4 299.1 554.5 298.6 C559.6 298.1 555.4 298.6 560.0 296.8 C564.6 295.0 574.8 291.0 582.2 287.9 C589.6 284.8 597.1 281.8 604.5 277.9 C611.9 274.0 620.4 268.1 626.7 264.6 C633.0 261.1 637.8 258.5 642.3 256.8 C646.8 255.1 649.3 255.3 653.4 254.6 C657.5 253.9 662.7 253.7 666.8 252.8 C670.9 251.9 673.5 249.9 678.0 249.0 C682.5 248.1 689.1 247.2 693.5 247.4 C697.9 247.6 700.9 248.6 704.6 250.1 C708.3 251.6 710.1 253.5 715.7 256.3 C721.3 259.1 732.4 263.4 738.0 266.8 C743.6 270.2 745.4 273.2 749.1 276.8 C752.8 280.4 755.8 284.5 760.0 288.4 C764.2 292.3 767.6 295.5 774.5 300.0 C781.4 304.5 793.0 311.5 801.2 315.6 C809.4 319.7 814.6 323.0 823.5 324.5 C832.4 326.0 845.2 324.1 854.6 324.5 C864.0 324.9 871.3 327.1 880.0 327.2 C888.7 327.3 897.8 326.2 906.7 325.2 C915.6 324.2 926.0 323.2 933.4 321.2 C940.8 319.2 945.3 315.8 951.2 313.4 C957.1 311.0 961.6 307.9 969.0 306.7 C976.4 305.5 990.0 305.9 995.7 306.1 C1001.4 306.3 997.6 303.8 1003.3 307.8 C1009.0 311.8 1021.5 321.5 1030.0 330.0 C1038.5 338.5 1047.1 350.5 1054.5 359.0 C1061.9 367.5 1068.2 375.2 1074.5 380.8 C1080.8 386.4 1086.4 389.2 1092.3 392.4 C1098.2 395.6 1105.5 399.2 1110.0 400.1 C1114.5 401.1 1114.9 398.2 1119.0 398.1 C1123.1 398.0 1130.1 399.7 1134.6 399.7 C1139.0 399.7 1140.9 400.0 1145.7 397.9 C1150.5 395.8 1158.0 390.5 1163.5 387.2 C1169.0 383.9 1174.6 381.3 1179.0 378.3 C1183.4 375.3 1185.9 373.7 1190.0 369.0 C1194.1 364.3 1198.7 357.1 1203.4 350.0 C1208.1 342.9 1213.0 335.1 1218.0 326.4 C1223.0 317.7 1228.7 307.2 1233.5 298.0 C1238.3 288.8 1242.3 278.9 1246.8 271.2 C1251.2 263.5 1256.5 256.5 1260.2 251.6 C1263.9 246.7 1266.0 245.0 1269.0 242.0 C1272.0 239.0 1275.4 236.1 1278.0 233.4 C1280.6 230.7 1282.1 227.9 1284.7 225.7 C1287.3 223.5 1291.0 221.2 1293.5 220.0 C1296.0 218.8 1298.2 218.8 1300.0 218.4 C1301.8 218.0 1302.3 218.6 1304.5 217.8 C1306.7 217.0 1309.3 215.2 1313.4 213.4 C1317.5 211.6 1323.4 207.9 1329.0 206.7 C1334.6 205.5 1340.9 206.8 1346.8 206.0 C1352.7 205.2 1358.6 202.7 1364.6 201.6 C1370.6 200.5 1379.6 199.9 1382.6 199.6" fill="none" stroke="#ff2020" stroke-width="1.05" stroke-linejoin="round"/>
<path d="M148.5 105.4 L1415 109.9" stroke="#000" stroke-width="2" stroke-dasharray="6 4" fill="none"/>
<path d="M1180 132.9 L1415 133.2" stroke="#000" stroke-width="2" stroke-dasharray="6 4" fill="none"/>
<path d="M0 165.5 H1417.5" stroke="#2b4872" stroke-width="1" fill="none"/>
<rect x="5" y="5.00" width="79.0" height="21.75" fill="rgba(0,0,0,0.62)"/>
<rect x="5" y="5.00" width="3.1" height="21.75" fill="#37876f"/>
<text x="16.5" y="21.00" fill="#fff" font-weight="bold">XAU/USD</text>
<rect x="5" y="32.00" width="85.0" height="21.75" fill="rgba(0,0,0,0.62)"/>
<rect x="5" y="32.00" width="3.1" height="21.75" fill="#ff0000"/>
<text x="16.5" y="48.00" fill="#fff" font-weight="bold">SMA (21,0)</text>
<rect x="5" y="59.00" width="85.0" height="21.75" fill="rgba(0,0,0,0.62)"/>
<rect x="5" y="59.00" width="3.1" height="21.75" fill="#5a00ff"/>
<text x="16.5" y="75.00" fill="#fff" font-weight="bold">SMA (50,0)</text>
<rect x="5" y="86.00" width="91.0" height="21.75" fill="rgba(0,0,0,0.62)"/>
<rect x="5" y="86.00" width="3.1" height="21.75" fill="#00dd00"/>
<text x="16.5" y="102.00" fill="#fff" font-weight="bold">SMA (100,0)</text>
<rect x="5" y="113.00" width="91.0" height="21.75" fill="rgba(0,0,0,0.62)"/>
<rect x="5" y="113.00" width="3.1" height="21.75" fill="#ff00ff"/>
<text x="16.5" y="129.00" fill="#fff" font-weight="bold">SMA (200,0)</text>
<rect x="0" y="558.1" width="1382.6" height="26.3" fill="rgba(0,255,0,0.5)"/>
<rect x="0" y="620.4" width="1382.6" height="27.1" fill="rgba(255,0,0,0.5)"/>
<path d="M0.0 597.6 L8.8 596.2 L17.6 601.0 L26.4 599.6 L35.2 598.0 L44.0 600.0 L52.8 600.4 L61.7 599.6 L70.5 602.0 L79.3 594.0 L88.1 590.0 L96.9 588.2 L105.7 597.6 L114.5 596.4 L123.3 593.6 L132.1 595.0 L140.9 599.0 L149.7 600.2 L158.5 598.6 L167.3 605.4 L176.2 607.6 L185.0 612.0 L193.8 606.4 L202.6 608.0 L211.4 607.0 L220.2 610.4 L229.0 613.8 L237.8 612.0 L246.6 613.0 L255.4 608.0 L264.2 607.0 L273.0 602.6 L281.8 609.6 L290.7 605.8 L299.5 605.3 L308.3 610.4 L317.1 603.6 L325.9 604.6 L334.7 605.6 L343.5 608.6 L352.3 609.2 L361.1 604.4 L369.9 604.4 L378.7 606.6 L387.5 609.8 L396.4 611.0 L405.2 615.2 L414.0 613.0 L422.8 611.8 L431.6 614.0 L440.4 615.4 L449.2 615.2 L458.0 610.0 L466.8 609.2 L475.6 608.2 L484.4 611.0 L493.2 612.6 L502.0 606.4 L510.9 606.2 L519.7 603.2 L528.5 594.6 L537.3 593.4 L546.1 596.0 L554.9 596.2 L563.7 588.8 L572.5 590.0 L581.3 593.4 L590.1 596.6 L598.9 600.0 L607.7 596.4 L616.5 593.6 L625.4 604.0 L634.2 599.6 L643.0 597.8 L651.8 605.0 L660.6 608.0 L669.4 608.0 L678.2 604.2 L687.0 606.6 L695.8 610.0 L704.6 613.2 L713.4 613.8 L722.2 612.8 L731.0 614.8 L739.9 616.4 L748.7 619.2 L757.5 620.0 L766.3 619.8 L775.1 616.0 L783.9 614.4 L792.7 605.0 L801.5 604.2 L810.3 605.4 L819.1 602.8 L827.9 595.4 L836.7 593.2 L845.5 594.6 L854.4 594.8 L863.2 595.8 L872.0 602.5 L880.8 607.0 L889.6 605.4 L898.4 605.8 L907.2 603.6 L916.0 608.0 L924.8 610.6 L933.6 609.0 L942.4 601.6 L951.2 596.6 L960.1 598.0 L968.9 598.6 L977.7 604.2 L986.5 601.6 L995.3 606.6 L1004.1 613.0 L1012.9 620.4 L1021.7 622.8 L1030.5 626.0 L1039.3 628.8 L1048.1 629.4 L1056.9 629.8 L1065.7 630.0 L1074.6 622.4 L1083.4 609.4 L1092.2 609.4 L1101.0 604.0 L1109.8 606.2 L1118.6 589.8 L1127.4 593.6 L1136.2 593.0 L1145.0 589.0 L1153.8 585.0 L1162.6 583.6 L1171.4 586.4 L1180.2 587.0 L1189.1 585.6 L1197.9 584.8 L1206.7 581.2 L1215.5 586.0 L1224.3 589.6 L1233.1 590.2 L1241.9 589.4 L1250.7 587.8 L1259.5 593.4 L1268.3 596.8 L1277.1 602.6 L1285.9 600.6 L1294.7 606.6 L1303.6 603.2 L1312.4 598.6 L1321.2 600.0 L1330.0 594.6 L1338.8 594.6 L1347.6 595.8 L1356.4 591.0 L1365.2 594.2 L1374.0 593.4 L1382.8 593.2" fill="none" stroke="#2850ff" stroke-width="1.05" stroke-linejoin="round"/>
<rect x="5" y="561" width="111" height="21.7" fill="rgba(0,0,0,0.62)"/>
<rect x="5" y="561" width="3.2" height="21.7" fill="#00ee00"/>
<text x="17" y="577.2" fill="#fff" font-weight="bold">RSI (14,70,30,1)</text>
<rect x="0.5" y="556.5" width="1417.0" height="91.0" fill="none" stroke="#ccd3e8" stroke-width="1"/>
<path d="M0.5 557.8 V584.4 M0 584.4 H1382.6 M1382.6 557.8 V584.9 M0.5 620 V647.2 M0 620.4 H1382.6 M1382.6 620 V647.5" stroke="#000" stroke-width="0.9" fill="none"/>
<g stroke="#777" stroke-width="1"><path d="M698 550.5 H718 M698 552.5 H718 M698 554.5 H718"/></g>
<g fill="#555">
<text x="1425" y="527.4">1,820.0000</text>
<text x="1425" y="486.2">1,840.0000</text>
<text x="1425" y="445.1">1,860.0000</text>
<text x="1425" y="403.9">1,880.0000</text>
<text x="1425" y="362.8">1,900.0000</text>
<text x="1425" y="321.6">1,920.0000</text>
<text x="1425" y="280.5">1,940.0000</text>
<text x="1425" y="239.3">1,960.0000</text>
<text x="1425" y="198.2">1,980.0000</text>
<text x="1425" y="157.0">2,000.0000</text>
<text x="1425" y="115.9">2,020.0000</text>
<text x="1425" y="74.8">2,040.0000</text>
<text x="1425" y="33.6">2,060.0000</text>
<text x="1425" y="650.9">0.0000</text>
<text x="1425" y="628.9">25.0000</text>
<text x="1425" y="606.9">50.0000</text>
<text x="1425" y="584.9">75.0000</text>
</g>
<path d="M1420.8 165.5 L1428.4 158.1 H1484.2 V172.9 H1428.4 Z" fill="#2b4872"/>
<text x="1426.1" y="170.6" fill="#fff" font-weight="bold" textLength="54.3" lengthAdjust="spacingAndGlyphs">1,993.7500</text>
<text x="70.5" y="665.3" text-anchor="middle" fill="#666" font-weight="bold">May</text>
<text x="158.5" y="665.3" text-anchor="middle" fill="#888">15</text>
<text x="273.0" y="665.3" text-anchor="middle" fill="#666" font-weight="bold">Jun</text>
<text x="378.7" y="665.3" text-anchor="middle" fill="#888">19</text>
<text x="464.5" y="665.3" text-anchor="middle" fill="#666" font-weight="bold">Jul</text>
<text x="554.9" y="665.3" text-anchor="middle" fill="#888">17</text>
<text x="651.8" y="665.3" text-anchor="middle" fill="#666" font-weight="bold">Aug</text>
<text x="731.0" y="665.3" text-anchor="middle" fill="#888">14</text>
<text x="854.4" y="665.3" text-anchor="middle" fill="#666" font-weight="bold">Sep</text>
<text x="951.2" y="665.3" text-anchor="middle" fill="#888">18</text>
<text x="1038.0" y="665.3" text-anchor="middle" fill="#666" font-weight="bold">Oct</text>
<text x="1127.4" y="665.3" text-anchor="middle" fill="#888">16</text>
<text x="1233.1" y="665.3" text-anchor="middle" fill="#666" font-weight="bold">Nov</text>
<text x="1382.8" y="665.3" text-anchor="middle" fill="#888">24</text>
</svg></body></html>
